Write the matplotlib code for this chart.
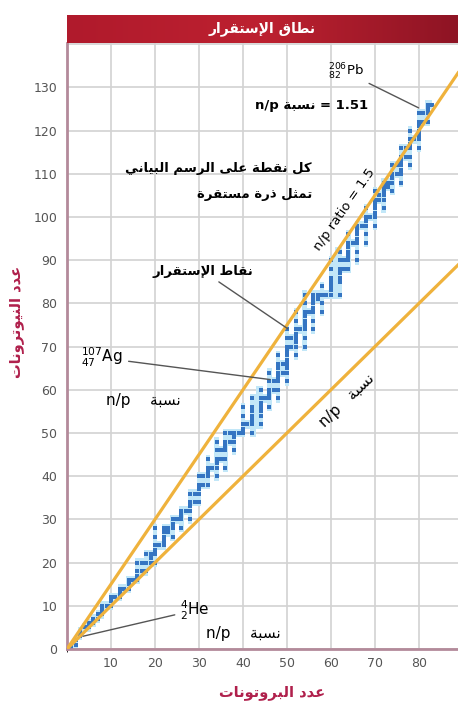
import matplotlib
matplotlib.use('Agg')
import matplotlib.pyplot as plt
import numpy as np
from matplotlib.colors import LinearSegmentedColormap

# stable nuclides: proton number -> neutron numbers
stable_neutrons = {
    1: [0, 1], 2: [1, 2], 3: [3, 4], 4: [5], 5: [5, 6], 6: [6, 7], 7: [7, 8],
    8: [8, 9, 10], 9: [10], 10: [10, 11, 12], 11: [12], 12: [12, 13, 14],
    13: [14], 14: [14, 15, 16], 15: [16], 16: [16, 17, 18, 20], 17: [18, 20],
    18: [18, 20, 22], 19: [20, 21, 22], 20: [20, 22, 23, 24, 26, 28], 21: [24],
    22: [24, 25, 26, 27, 28], 23: [27, 28], 24: [26, 28, 29, 30], 25: [30],
    26: [28, 30, 31, 32], 27: [32], 28: [30, 32, 33, 34, 36], 29: [34, 36],
    30: [34, 36, 37, 38, 40], 31: [38, 40], 32: [38, 40, 41, 42, 44], 33: [42],
    34: [40, 42, 43, 44, 46, 48], 35: [44, 46], 36: [42, 44, 46, 47, 48, 50],
    37: [48, 50], 38: [46, 48, 49, 50], 39: [50], 40: [50, 51, 52, 54, 56],
    41: [52], 42: [50, 52, 53, 54, 55, 56, 58], 44: [52, 54, 55, 56, 57, 58, 60],
    45: [58], 46: [56, 58, 59, 60, 62, 64], 47: [60, 62],
    48: [58, 60, 62, 63, 64, 65, 66, 68], 49: [64, 66],
    50: [62, 64, 65, 66, 67, 68, 69, 70, 72, 74], 51: [70, 72],
    52: [68, 70, 71, 72, 73, 74, 76, 78], 53: [74],
    54: [70, 72, 74, 75, 76, 77, 78, 80, 82], 55: [78],
    56: [74, 76, 78, 79, 80, 81, 82], 57: [81, 82], 58: [78, 80, 82, 84],
    59: [82], 60: [82, 83, 84, 85, 86, 88, 90], 62: [82, 85, 86, 87, 88, 90, 92],
    63: [88, 90], 64: [88, 90, 91, 92, 93, 94, 96], 65: [94],
    66: [90, 92, 94, 95, 96, 97, 98], 67: [98], 68: [94, 96, 98, 99, 100, 102],
    69: [100], 70: [98, 100, 101, 102, 103, 104, 106], 71: [104, 105],
    72: [102, 104, 105, 106, 107, 108], 73: [107, 108],
    74: [106, 108, 109, 110, 112], 75: [110, 112],
    76: [108, 110, 111, 112, 113, 114, 116], 77: [114, 116],
    78: [112, 114, 116, 117, 118, 120], 79: [118],
    80: [116, 118, 119, 120, 121, 122, 124], 81: [122, 124],
    82: [122, 124, 125, 126], 83: [126],
}
ratio_lines = [1.0, 1.5]
x_ticks = [10, 20, 30, 40, 50, 60, 70, 80]
y_ticks = list(range(0, 141, 10))

# --- minimal arabic shaping (matplotlib does no shaping / bidi) ---
FORMS = {  # isolated, final, initial, medial
    'ا': ('\uFE8D', '\uFE8E', None, None), 'إ': ('\uFE87', '\uFE88', None, None),
    'ب': ('\uFE8F', '\uFE90', '\uFE91', '\uFE92'), 'ة': ('\uFE93', '\uFE94', None, None),
    'ت': ('\uFE95', '\uFE96', '\uFE97', '\uFE98'), 'ث': ('\uFE99', '\uFE9A', '\uFE9B', '\uFE9C'),
    'د': ('\uFEA9', '\uFEAA', None, None), 'ذ': ('\uFEAB', '\uFEAC', None, None),
    'ر': ('\uFEAD', '\uFEAE', None, None), 'س': ('\uFEB1', '\uFEB2', '\uFEB3', '\uFEB4'),
    'ط': ('\uFEC1', '\uFEC2', '\uFEC3', '\uFEC4'), 'ع': ('\uFEC9', '\uFECA', '\uFECB', '\uFECC'),
    'ق': ('\uFED5', '\uFED6', '\uFED7', '\uFED8'), 'ك': ('\uFED9', '\uFEDA', '\uFEDB', '\uFEDC'),
    'ل': ('\uFEDD', '\uFEDE', '\uFEDF', '\uFEE0'), 'م': ('\uFEE1', '\uFEE2', '\uFEE3', '\uFEE4'),
    'ن': ('\uFEE5', '\uFEE6', '\uFEE7', '\uFEE8'), 'و': ('\uFEED', '\uFEEE', None, None),
    'ى': ('\uFEEF', '\uFEF0', None, None), 'ي': ('\uFEF1', '\uFEF2', '\uFEF3', '\uFEF4'),
    '\uE000': ('\uFEFB', '\uFEFC', None, None), '\uE001': ('\uFEF9', '\uFEFA', None, None),
}


def ar(text):
    text = text.replace('لا', '\uE000').replace('لإ', '\uE001')
    out = []
    for i, c in enumerate(text):
        if c not in FORMS:
            out.append(c)
            continue
        prev = text[i - 1] if i > 0 else ''
        nxt = text[i + 1] if i + 1 < len(text) else ''
        p = prev in FORMS and FORMS[prev][2] is not None
        n = FORMS[c][2] is not None and nxt in FORMS
        iso, fin, ini, med = FORMS[c]
        out.append(med if p and n else fin if p else ini if n else iso)
    return ''.join(reversed(out))


plt.rcParams['font.family'] = ['DejaVu Sans']
W, H = 458, 701
fig = plt.figure(figsize=(W / 100, H / 100), dpi=100)
fig.patch.set_facecolor('white')

ax = fig.add_axes([67 / W, 52 / H, 391 / W, 606 / H])
ax.set_xlim(0, 88.9)
ax.set_ylim(0, 140.3)

# light band behind the stable nuclides
zs = np.array(sorted(stable_neutrons))
lo = np.array([min(stable_neutrons[z]) for z in zs])
hi = np.array([max(stable_neutrons[z]) for z in zs])
ax.fill_between(zs, lo - 1, hi + 1, step='mid', color='#c2e7f8', lw=0, zorder=1)

pz = [z for z in zs for _ in stable_neutrons[z]]
pn = [nn for z in zs for nn in stable_neutrons[z]]
ax.scatter(pz, pn, marker='s', s=7, color='#3575c2', lw=0, zorder=2)

xx = np.array([0, 95])
for r in ratio_lines:
    ax.plot(xx, r * xx, color='#efb23c', lw=2.3, zorder=3, solid_capstyle='butt')

ax.set_xticks(x_ticks)
ax.set_yticks(y_ticks)
ax.set_yticklabels([str(v) if v < 140 else '' for v in y_ticks])
ax.set_xticks([0], minor=True)
ax.grid(True, which='both', color='#d2d2d2', lw=1.2, zorder=0)
ax.set_axisbelow(True)
ax.tick_params(length=0, labelsize=9, labelcolor='#555555')
ax.tick_params(axis='y', pad=7)
ax.tick_params(axis='x', pad=6)
for s in ('top', 'right'):
    ax.spines[s].set_visible(False)
for s in ('left', 'bottom'):
    ax.spines[s].set_color('#b38a9a')
    ax.spines[s].set_linewidth(2)

lab_col = '#b0204c'
fig.text(272 / W, 1 - 693 / H, ar('عدد البروتونات'), color=lab_col, fontsize=10.5,
         fontweight='bold', ha='center', va='center')
fig.text(17 / W, 1 - 322 / H, ar('عدد النيوترونات'), color=lab_col, fontsize=10.5,
         fontweight='bold', ha='center', va='center', rotation=90)

# title band
tax = fig.add_axes([67 / W, 1 - 43 / H, 391 / W, 28 / H])
grad = np.linspace(0, 1, 256)[None, :]
cmap = LinearSegmentedColormap.from_list('band', ['#b01a2c', '#bd2130', '#8e1424'])
tax.imshow(grad, aspect='auto', cmap=cmap, extent=[0, 1, 0, 1])
tax.set_axis_off()
tax.text(0.5, 0.5, ar('نطاق الإستقرار'), color='white', fontsize=10,
         fontweight='bold', ha='center', va='center', transform=tax.transAxes)

# annotations
line_kw = dict(arrowstyle='-', color='#555555', lw=1)
ax.annotate(r'${}^{206}_{82}$Pb', xy=(80.5, 125), xytext=(63.4, 133.6),
            fontsize=9.5, ha='center', va='center', arrowprops=line_kw, zorder=5)
ax.text(55.7, 125.9, 'n/p ' + ar('نسبة') + ' = 1.51', fontsize=9.5,
        fontweight='bold', ha='center', va='center', zorder=5)
ax.text(55.7, 111.3, ar('كل نقطة على الرسم البياني'), fontsize=9.5,
        fontweight='bold', ha='right', va='center', zorder=5)
ax.text(55.7, 105.3, ar('تمثل ذرة مستقرة'), fontsize=9.5,
        fontweight='bold', ha='right', va='center', zorder=5)
ax.text(63.0, 101.8, 'n/p ratio = 1.5', fontsize=9.5, rotation=55,
        ha='center', va='center', zorder=5)
ax.annotate(ar('نقاط الإستقرار'), xy=(50.7, 73.8), xytext=(30.9, 87.5),
            fontsize=9.5, fontweight='bold', ha='center', va='center',
            arrowprops=line_kw, zorder=5)
ax.annotate(r'${}^{107}_{47}$Ag', xy=(46.8, 62.3), xytext=(8.0, 67.4),
            fontsize=11, ha='center', va='center', arrowprops=line_kw, zorder=5)
ax.text(17.3, 57.6, 'n/p    ' + ar('نسبة'), fontsize=11,
        ha='center', va='center', zorder=5)
ax.text(63.6, 57.6, 'n/p   ' + ar('نسبة'), fontsize=11, rotation=44,
        ha='center', va='center', zorder=5)
ax.annotate(r'${}^{4}_{2}$He', xy=(3.0, 2.8), xytext=(29.1, 9.0),
            fontsize=11, ha='center', va='center', arrowprops=line_kw, zorder=5)
ax.text(40.0, 3.7, 'n/p    ' + ar('نسبة'), fontsize=11,
        ha='center', va='center', zorder=5)

fig.savefig('out.png', dpi=100)
